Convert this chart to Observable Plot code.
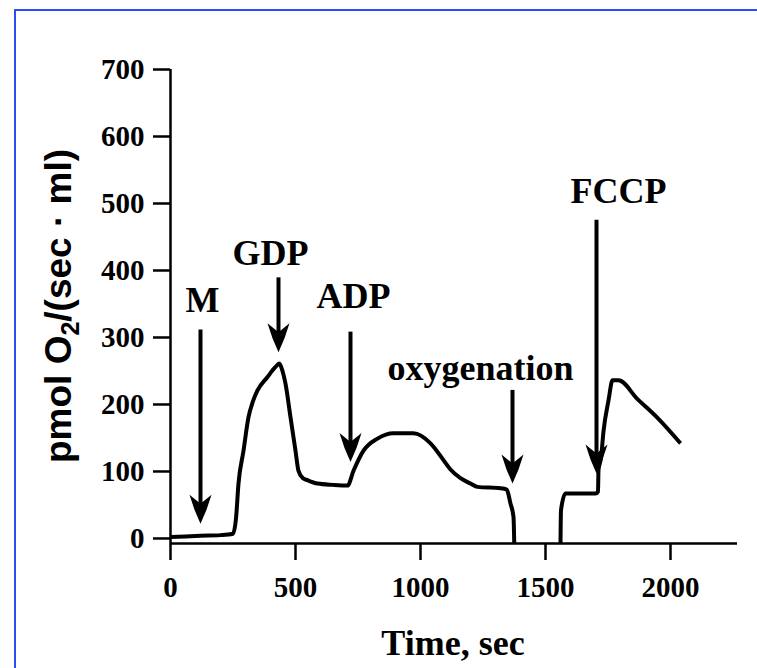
<!DOCTYPE html>
<html>
<head>
<meta charset="utf-8">
<script src="https://cdn.jsdelivr.net/npm/d3@7"></script>
<script src="https://cdn.jsdelivr.net/npm/@observablehq/plot@0.6"></script>
<style>
  html, body { margin: 0; padding: 0; background: #fff; overflow: hidden; }
  #wrap { position: relative; width: 757px; height: 668px; overflow: hidden; }
  #frame { position: absolute; left: 14px; top: 9px; width: 900px; height: 900px;
           border: 2.5px solid #2d4df2; box-sizing: border-box; }
  #chart { position: absolute; left: 0; top: 0; }
</style>
</head>
<body>
<div id="wrap"><div id="frame"></div><div id="chart"></div></div>
<script>
// Oxygen consumption trace; NaN = gap while anoxic
const time = [0, 60, 120, 200, 250, 262, 272, 292, 312, 330, 348, 388, 420, 435, 448, 460, 480, 500, 512, 530, 548, 588, 650, 708,
  732, 772, 828, 892, 972, 1040, 1092, 1120, 1160, 1200, 1228, 1320, 1345, 1360, 1372, 1375, 1470, 1560, 1562, 1580, 1700, 1710,
  1712, 1722, 1732, 1752, 1768, 1792, 1868, 1948, 2040];
const o2 = [2, 3, 4, 5, 7, 30, 82, 131, 181, 205, 221, 241, 256, 261, 250, 231, 181, 131, 101, 90, 87, 82, 80, 79,
  101, 131, 149, 157, 157, 142, 117, 103, 90, 82, 77, 75, 73, 52, 32, -7, NaN, -7, 42, 67, 67, 70,
  102, 120, 160, 206, 236, 236, 208, 180, 142];

const xTicks = [0, 500, 1000, 1500, 2000];
const yTicks = [0, 100, 200, 300, 400, 500, 600, 700];

// Additions (arrows + labels)
const events = ["M", "GDP", "ADP", "oxygenation", "FCCP"];
const eventTime = [120, 432, 720, 1368, 1704];
const arrowTop = [311, 389, 308, 221, 475];
const arrowTip = [22, 278, 114, 82, 97];
const labelX = [128, 400, 732, 1240, 1792];
const labelY = [338, 408, 344, 236, 501];

const trace = time.map((t, i) => ({t, v: o2[i]}));
const ev = events.map((name, i) => ({name, t: eventTime[i], top: arrowTop[i], tip: arrowTip[i], lx: labelX[i], ly: labelY[i]}));

const serif = "'Liberation Serif', 'Times New Roman', Times, serif";

const head = {
  draw(ctx) {
    ctx.moveTo(0, 0);
    ctx.lineTo(-6, -14);
    ctx.lineTo(-11, -29);
    ctx.lineTo(0, -20);
    ctx.lineTo(11, -29);
    ctx.lineTo(6, -14);
    ctx.closePath();
  }
};

const chart = Plot.plot({
  width: 757,
  height: 668,
  marginLeft: 170,
  marginRight: 20,
  marginTop: 69,
  marginBottom: 125,
  x: {domain: [0, 2268]},
  y: {domain: [-7.5, 700]},
  style: {background: "transparent", color: "#000"},
  marks: [
    Plot.axisY({ticks: yTicks, tickSize: 17, tickPadding: 9, strokeWidth: 2.5, label: null,
      fontSize: 29, fontFamily: serif, fontWeight: "bold", tickFormat: d => String(d)}),
    Plot.axisX({ticks: xTicks, tickSize: 17, tickPadding: 16, strokeWidth: 2.5, label: null,
      fontSize: 29, fontFamily: serif, fontWeight: "bold", tickFormat: d => String(d)}),
    Plot.ruleX([0], {y1: -7.5, y2: 700, strokeWidth: 2.5}),
    Plot.ruleY([-7.5], {x1: 0, x2: 2268, strokeWidth: 2.5}),
    Plot.line(trace, {x: "t", y: "v", curve: "monotone-x", strokeWidth: 4, strokeLinejoin: "round", strokeLinecap: "butt"}),
    Plot.ruleX(ev, {x: "t", y1: "top", y2: d => d.tip + 18, strokeWidth: 4}),
    Plot.dot(ev, {x: "t", y: "tip", symbol: head, fill: "#000", stroke: "none", r: 5}),
    Plot.text(ev, {x: "lx", y: "ly", text: "name", fontSize: 36, fontFamily: serif, fontWeight: "bold",
      lineAnchor: "bottom", fill: "#000"})
  ]
});
document.getElementById("chart").appendChild(chart);

// Y axis title with subscript
const svg = d3.select(chart);
const t = svg.append("text")
  .attr("transform", "translate(71,306) rotate(-90)")
  .attr("text-anchor", "middle")
  .attr("font-family", "'Liberation Sans', Arial, Helvetica, sans-serif")
  .attr("font-weight", "bold")
  .attr("font-size", 37)
  .attr("fill", "#000");
t.append("tspan").text("pmol O");
t.append("tspan").attr("font-size", 25).attr("dy", 8).text("2");
t.append("tspan").attr("dy", -8).text("/(sec · ml)");

// X axis title
svg.append("text")
  .attr("x", 453).attr("y", 655)
  .attr("text-anchor", "middle")
  .attr("font-family", serif)
  .attr("font-weight", "bold")
  .attr("font-size", 36)
  .attr("fill", "#000")
  .text("Time, sec");
</script>
</body>
</html>
